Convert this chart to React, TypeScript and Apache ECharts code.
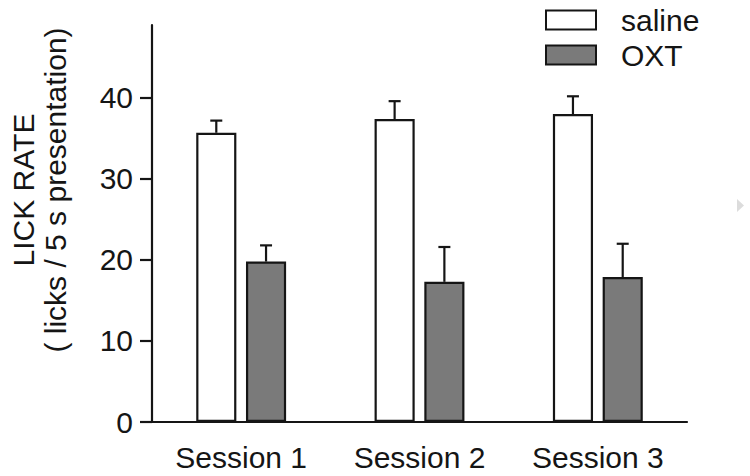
import React, { useEffect, useRef } from "react";
import * as echarts from "echarts";

const categories = ["Session 1", "Session 2", "Session 3"];
const salineMean = [35.7, 37.4, 38.0];
const salineErr = [1.5, 2.2, 2.2];
const oxtMean = [19.8, 17.3, 17.9];
const oxtErr = [2.0, 4.3, 4.1];
const yTicks = [0, 10, 20, 30, 40];
const seriesNames = ["saline", "OXT"];
const titleLines = ["LICK RATE", "( licks / 5 s presentation)"];

const FONT = "'Liberation Sans', Arial, Helvetica, sans-serif";
const INK = "#151515";
const BAR_W = 0.225;
const BAR_GAP = 0.24;
const FS = 30;

function errorSeries(means: number[], errs: number[], sign: number) {
  return {
    type: "custom",
    silent: true,
    z: 5,
    encode: { x: 0, y: [1, 2] },
    data: means.map((m, i) => [i, m, m + errs[i]]),
    renderItem: (params: any, api: any) => {
      const cat = api.value(0);
      const lo = api.coord([cat, api.value(1)]);
      const hi = api.coord([cat, api.value(2)]);
      const band = api.size([1, 0])[0];
      const bw = band * BAR_W;
      const x = lo[0] + sign * (bw + bw * BAR_GAP) / 2;
      const style = { stroke: INK, lineWidth: 2.2 };
      return {
        type: "group",
        children: [
          { type: "line", shape: { x1: x, y1: lo[1], x2: x, y2: hi[1] }, style },
          { type: "line", shape: { x1: x - 6, y1: hi[1], x2: x + 6, y2: hi[1] }, style },
        ],
      };
    },
  };
}

export default function App() {
  const ref = useRef<HTMLDivElement>(null);
  useEffect(() => {
    if (!ref.current) return;
    const chart = echarts.init(ref.current, undefined, { renderer: "svg" });
    chart.setOption({
      animation: false,
      backgroundColor: "#ffffff",
      textStyle: { fontFamily: FONT, color: INK },
      grid: { left: 152, right: 63, top: 25, bottom: 54, containLabel: false },
      legend: {
        data: seriesNames,
        orient: "vertical",
        left: 540,
        top: 0,
        itemWidth: 50,
        itemHeight: 19,
        itemGap: 5,
        icon: "rect",
        textStyle: { fontSize: FS, fontFamily: FONT, color: INK, padding: [0, 0, 0, 20] },
      },
      xAxis: {
        type: "category",
        data: categories,
        axisLine: { lineStyle: { color: INK, width: 2.2 } },
        axisTick: { alignWithLabel: true, length: 12, lineStyle: { color: INK, width: 2.2 } },
        axisLabel: { fontSize: FS, fontFamily: FONT, color: INK, margin: 20 },
        splitLine: { show: false },
      },
      yAxis: {
        type: "value",
        min: 0,
        max: 49,
        interval: 10,
        axisLine: { show: true, lineStyle: { color: INK, width: 2.2 } },
        axisTick: { show: true, length: 12, customValues: yTicks, lineStyle: { color: INK, width: 2.2 } },
        axisLabel: { customValues: yTicks, fontSize: FS, fontFamily: FONT, color: INK, margin: 19 },
        splitLine: { show: false },
      },
      series: [
        {
          name: seriesNames[0],
          type: "bar",
          data: salineMean,
          barWidth: `${BAR_W * 100}%`,
          barGap: `${BAR_GAP * 100}%`,
          itemStyle: { color: "#ffffff", borderColor: INK, borderWidth: 2.2 },
        },
        {
          name: seriesNames[1],
          type: "bar",
          data: oxtMean,
          barWidth: `${BAR_W * 100}%`,
          barGap: `${BAR_GAP * 100}%`,
          itemStyle: { color: "#7a7a7a", borderColor: INK, borderWidth: 2.2 },
        },
        errorSeries(salineMean, salineErr, -1),
        errorSeries(oxtMean, oxtErr, 1),
      ],
      graphic: [
        {
          type: "text",
          x: 23,
          y: 190,
          rotation: Math.PI / 2,
          style: { text: titleLines[0], font: `${FS}px ${FONT}`, fill: INK, align: "center", verticalAlign: "middle" },
        },
        {
          type: "text",
          x: 55,
          y: 190,
          rotation: Math.PI / 2,
          style: { text: titleLines[1], font: `${FS}px ${FONT}`, fill: INK, align: "center", verticalAlign: "middle" },
        },
        {
          type: "polygon",
          shape: { points: [[737, 199], [737, 212], [744, 205.5]] },
          style: { fill: "#dcdcdc" },
          silent: true,
        },
      ],
    });
    return () => chart.dispose();
  }, []);
  return (
    <div
      ref={ref}
      style={{ position: "fixed", left: 0, top: 0, width: 750, height: 476, background: "#fff" }}
    />
  );
}
